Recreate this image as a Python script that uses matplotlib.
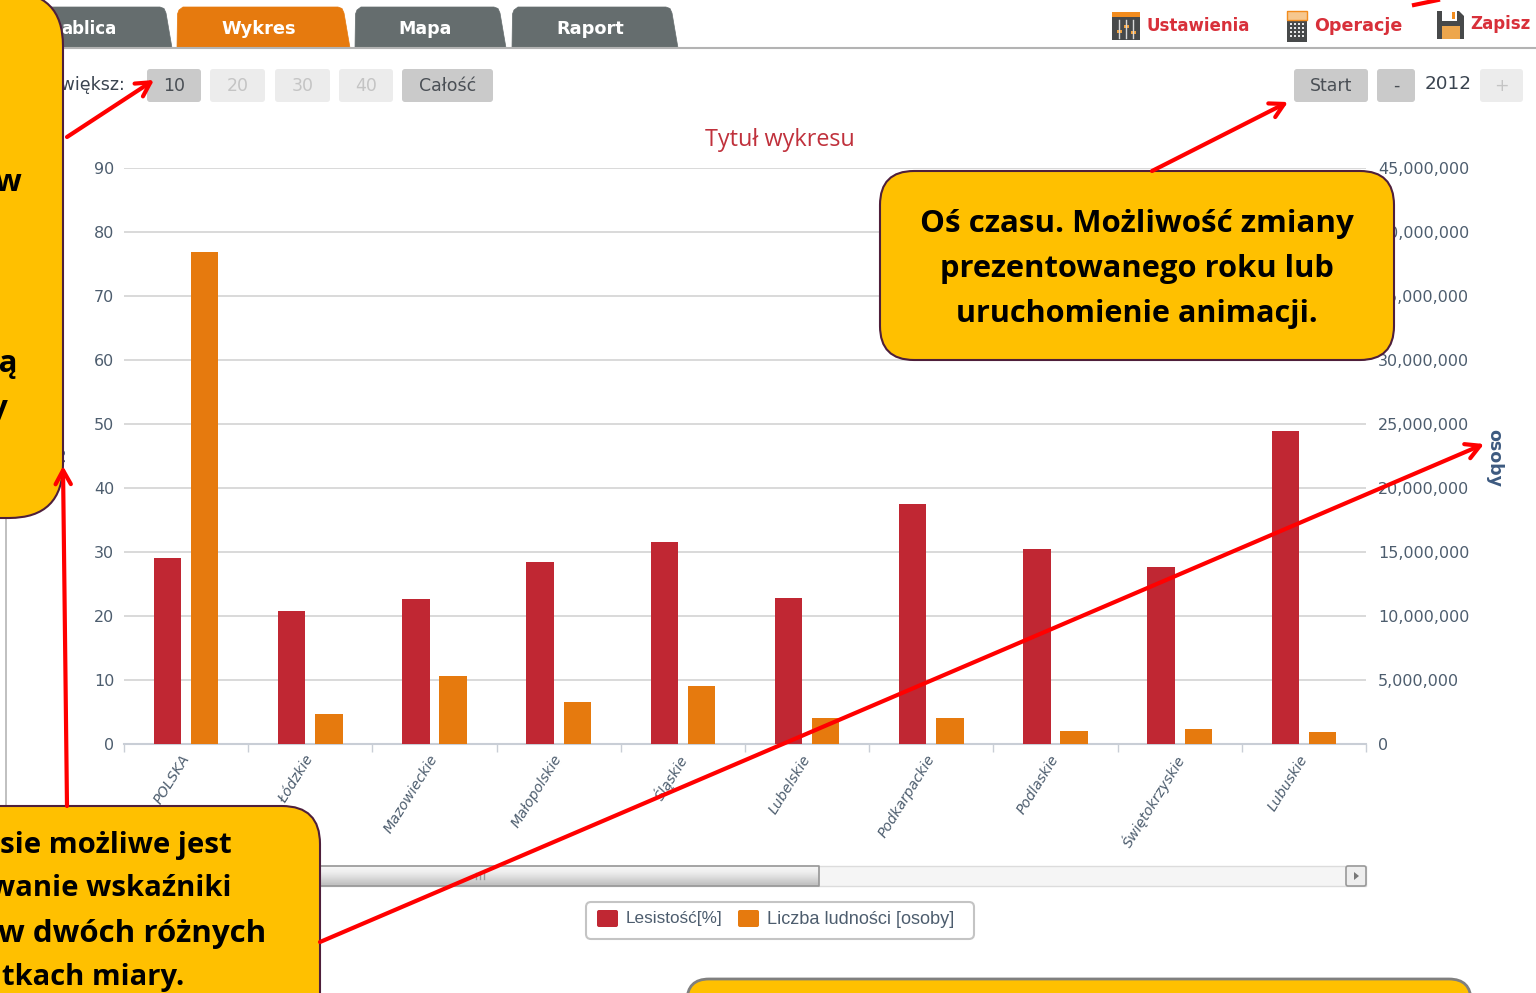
#!/usr/bin/env python
#coding=utf-8
import numpy as np
import matplotlib
matplotlib.use('Agg')
import matplotlib.pyplot as plt
from matplotlib.patches import FancyBboxPatch, Rectangle, Polygon

W, H = 1536, 993

# dane
regions = ['POLSKA', 'Łódzkie', 'Mazowieckie', 'Małopolskie', 'Śląskie', 'Lubelskie',
           'Podkarpackie', 'Podlaskie', 'Świętokrzyskie', 'Lubuskie']
forest = [29.1, 20.8, 22.7, 28.4, 31.6, 22.8, 37.5, 30.5, 27.7, 48.9]
population = [38400000, 2350000, 5300000, 3300000, 4500000, 2050000, 2050000, 1020000, 1200000, 950000]
left_ticks = [0, 10, 20, 30, 40, 50, 60, 70, 80, 90]
right_ticks = [0, 5000000, 10000000, 15000000, 20000000, 25000000, 30000000, 35000000, 40000000, 45000000]
tab_labels = ['ablica', 'Wykres', 'Mapa', 'Raport']

RED = '#c02733'
ORANGE = '#e67a0e'
GOLD = '#ffc000'
TXT = '#4d5d6e'
UI = 'DejaVu Sans'

fig = plt.figure(figsize=(W / 100, H / 100), dpi=100, facecolor='white')

# wykres: x 124-1366, y 168-744 w pikselach
ax = fig.add_axes([124 / W, 1 - 744 / H, (1366 - 124) / W, (744 - 168) / H])
x = np.arange(len(regions))
ax.bar(x - 0.15, forest, 0.22, color=RED, zorder=3)
ax.set_xlim(-0.5, 9.5)
ax.set_ylim(0, 90)
ax.set_yticks(left_ticks)
ax.tick_params(axis='y', length=0, pad=7, labelsize=11.5, labelcolor=TXT)
ax.grid(axis='y', color='#cfcfcf', lw=1.1, zorder=0)
ax.set_axisbelow(True)
for s in ['top', 'left', 'right']:
    ax.spines[s].set_visible(False)
ax.spines['bottom'].set_color('#c9ced6')
ax.spines['bottom'].set_linewidth(1.5)
ax.set_xticks(np.arange(-0.5, 10, 1))
ax.set_xticklabels([])
ax.tick_params(axis='x', length=6, color='#c9ced6', width=1)
for i, name in enumerate(regions):
    ax.annotate(name, (i, 0), xycoords=('data', 'data'), xytext=(-4, -6), textcoords='offset points',
                rotation=58, ha='right', va='top', rotation_mode='anchor', fontsize=10.2, color=TXT,
                style='italic', annotation_clip=False)

ax2 = ax.twinx()
ax2.bar(x + 0.15, population, 0.22, color=ORANGE, zorder=3)
ax2.set_ylim(0, 45000000)
ax2.set_yticks(right_ticks)
ax2.set_yticklabels(['{:,}'.format(v) for v in right_ticks])
ax2.tick_params(axis='y', length=0, pad=8.5, labelsize=11.5, labelcolor=TXT)
for s in ax2.spines.values():
    s.set_visible(False)

# warstwa na interfejs i objasnienia, wspolrzedne w pikselach
ov = fig.add_axes([0, 0, 1, 1], zorder=10)
ov.patch.set_alpha(0)
ov.axis('off')

ov.text(780, 140, 'Tytuł wykresu', color='#c0313c', fontsize=16.8, family='Open Sans', ha='center', va='center')
ov.text(1494, 458, 'osoby', color='#3d5a80', fontsize=12.5, fontweight='bold', rotation=270, ha='center', va='center')
ov.text(61, 457, '%', color='#3d5a80', fontsize=12, fontweight='bold', rotation=90, ha='center', va='center')
ov.plot([6, 6], [500, 810], color='#b5b5b5', lw=1.2)

# zakladki
ov.plot([0, W], [48, 48], color='#b3b3b3', lw=1.5)
tabs = [(40, 172, '#656d6e'), (177, 350, ORANGE), (355, 506, '#656d6e'), (512, 678, '#656d6e')]
centers = [89, 259, 425, 590]
tab_sizes = [12, 12.8, 12.5, 12.8]
for (a, b, col), c, lab, fs in zip(tabs, centers, tab_labels, tab_sizes):
    ov.add_patch(Polygon([(a, 48), (a + 0.5, 14), (a + 2, 10), (a + 6, 7), (b - 12, 7), (b - 8, 8.5), (b - 6, 13), (b, 48)],
                         closed=True, fc=col, ec=col, lw=0.5))
    ov.text(c, 29, lab, color='white', fontsize=fs, fontweight='bold', ha='center', va='center', family=UI)


def button(a, b, lab, on=True):
    ov.add_patch(FancyBboxPatch((a + 3, 72), b - a - 6, 27, boxstyle='round,pad=3', fc='#cacaca' if on else '#ececec', ec='none'))
    ov.text((a + b) / 2, 86, lab, color='#4a4f55' if on else '#c4c4c4', fontsize=12.5, ha='center', va='center', family=UI)


ov.text(125, 85, 'Powiększ:', color='#3a4450', fontsize=12.5, ha='right', va='center', family=UI)
button(147, 201, '10')
button(210, 265, '20', False)
button(275, 330, '30', False)
button(339, 393, '40', False)
button(402, 493, 'Całość')
button(1294, 1368, 'Start')
button(1377, 1415, '-')
ov.text(1448, 84, '2012', color='#3a4450', fontsize=13.2, ha='center', va='center', family=UI)
button(1480, 1523, '+', False)

# ikony i menu
ov.add_patch(Rectangle((1112, 12), 28, 28, fc='#47494a', ec='none'))
ov.add_patch(Rectangle((1112, 12), 28, 5, fc='#f28c1e', ec='none'))
for sx, sy in [(1119, 31), (1126, 26), (1133, 32)]:
    ov.plot([sx, sx], [20, 38], color='#d9d9d9', lw=1)
    ov.add_patch(Rectangle((sx - 2.5, sy - 1.5), 5, 3, fc='#f2a13c', ec='none'))
ov.add_patch(Rectangle((1287, 11), 20, 31, fc='#47494a', ec='none'))
ov.add_patch(Rectangle((1287, 11), 20, 9, fc='#f6c78e', ec='#f28c1e', lw=1))
for cx in [1291, 1295, 1299, 1303]:
    for cy in [24, 28, 32, 36]:
        ov.add_patch(Rectangle((cx - 1, cy - 1), 2, 2, fc='#e6e6e6', ec='none'))
ov.add_patch(Polygon([(1437, 11), (1459, 11), (1464, 16), (1464, 39), (1437, 39)], closed=True, fc='#47494a', ec='none'))
ov.add_patch(Rectangle((1442, 11), 15, 10, fc='white', ec='none'))
ov.add_patch(Rectangle((1452, 12), 3, 7, fc='#f28c1e', ec='none'))
ov.add_patch(Rectangle((1442, 26), 18, 13, fc='#eda64d', ec='none'))
for lab, tx, ty, fs in [('Ustawienia', 1146, 26, 12), ('Operacje', 1314, 26, 12.6), ('Zapisz', 1470, 24, 12)]:
    ov.text(tx, ty, lab, color='#d8303a', fontsize=fs, fontweight='bold', ha='left', va='center', family=UI)

# pasek przewijania
ov.add_patch(Rectangle((60, 866), 1306, 20, fc='#f5f5f5', ec='#dcdcdc', lw=1))
grad = np.array([[0.96], [0.93], [0.88], [0.82], [0.76]])
ov.imshow(grad, extent=(60, 819, 886, 866), aspect='auto', cmap='gray', vmin=0, vmax=1, zorder=2, interpolation='bilinear')
ov.plot([60, 819, 819, 60], [866, 866, 886, 886], color='#969696', lw=1.2, zorder=2)
for gx in [476, 480, 484]:
    ov.plot([gx, gx], [873, 879], color='#9a9a9a', lw=1, zorder=2)
ov.add_patch(FancyBboxPatch((1346, 866), 20, 20, boxstyle='round,pad=0,rounding_size=2', fc='#eeeeee', ec='#999999', lw=1.2, zorder=2))
ov.add_patch(Polygon([(1354, 872), (1359, 876), (1354, 880)], closed=True, fc='#777777', ec='none', zorder=3))

# legenda
ov.add_patch(FancyBboxPatch((586, 902), 388, 37, boxstyle='round,pad=0,rounding_size=5', fc='white', ec='#c4c4c4', lw=1.5))
ov.add_patch(FancyBboxPatch((597, 910), 21, 17, boxstyle='round,pad=0,rounding_size=2', fc=RED, ec='none'))
ov.add_patch(FancyBboxPatch((738, 910), 21, 17, boxstyle='round,pad=0,rounding_size=2', fc=ORANGE, ec='none'))
ov.text(626, 919, 'Lesistość[%]', color=TXT, fontsize=12.3, ha='left', va='center', family='Liberation Sans')
ov.text(767, 919, 'Liczba ludności [osoby]', color=TXT, fontsize=13.1, ha='left', va='center', family='Liberation Sans')


def arrow(p0, p1):
    ov.annotate('', xy=p1, xytext=p0, zorder=8,
                arrowprops=dict(arrowstyle='->,head_length=1.0,head_width=0.55', color='#ff0000', lw=3, shrinkA=0, shrinkB=0))


arrow((67, 137), (154, 80))
arrow((1152, 171), (1288, 102))
arrow((67, 806), (63, 466))
arrow((320, 942), (1484, 444))
ov.plot([1414, 1438], [5, 0], color='#ff0000', lw=3, zorder=5)


def callout(a, y0, b, y1, r=34, ec='#4e1f3b', lw=1.5):
    ov.add_patch(FancyBboxPatch((a, y0), b - a, y1 - y0, boxstyle='round,pad=0,rounding_size=%d' % r, fc=GOLD, ec=ec, lw=lw, zorder=6))


def say(tx, ty, s, ha='center', fs=22.5):
    ov.text(tx, ty, s, color='black', fontsize=fs, fontweight='bold', family='Open Sans', ha=ha, va='center', zorder=7, clip_on=True)


callout(-90, -8, 63, 518, r=54)
callout(880, 171, 1394, 360)
callout(-60, 806, 320, 1040, r=38)
callout(687, 979, 1471, 1080, r=22, ec='#7f7f7f', lw=2)

say(1137, 224, 'Oś czasu. Możliwość zmiany')
say(1137, 269, 'prezentowanego roku lub', fs=22.2)
say(1137, 314, 'uruchomienie animacji.', fs=22.1)
say(21, 183, 'w', 'right')
say(18, 364, 'rą', 'right')
say(8, 409, 'y', 'right')
say(232, 845, 'sie możliwe jest', 'right', fs=21.2)
say(232, 889, 'wanie wskaźniki', 'right', fs=21.2)
say(266, 934, 'w dwóch różnych', 'right')
say(184, 978, 'tkach miary.', 'right', fs=21)

# imshow i annotate zmieniaja zakres, wiec ustawiam go na koncu
ov.set_xlim(0, W)
ov.set_ylim(H, 0)

fig.savefig('out.png', dpi=100, facecolor='white')
